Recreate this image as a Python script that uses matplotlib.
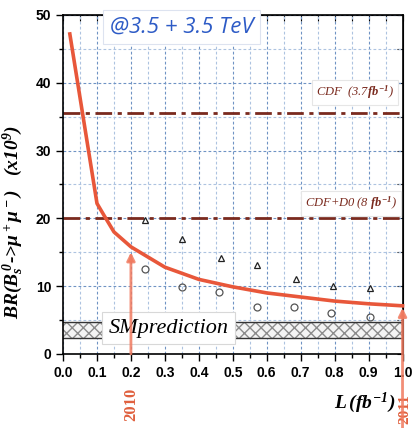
import numpy as np
import matplotlib
matplotlib.use("Agg")
import matplotlib.pyplot as plt
from matplotlib.ticker import MultipleLocator

# expected limit curve
curve_L = [0.02, 0.1, 0.12, 0.15, 0.2, 0.3, 0.4, 0.5, 0.6, 0.7, 0.8, 0.9, 1.0]
curve_br = [47.2, 22.2, 20.5, 18.0, 15.8, 12.8, 11.0, 9.9, 9.0, 8.4, 7.8, 7.4, 7.1]

# triangles and circles
tri_L = [0.24, 0.35, 0.465, 0.57, 0.685, 0.795, 0.905]
tri_br = [19.7, 17.0, 14.1, 13.1, 11.0, 10.0, 9.7]
circ_L = [0.24, 0.35, 0.46, 0.57, 0.68, 0.79, 0.905]
circ_br = [12.5, 9.85, 9.1, 6.9, 6.9, 6.0, 5.4]

# reference limits and SM band
cdf_limit = 35.6
cdf_d0_limit = 20.0
sm_low, sm_high = 2.3, 4.7
year_L = [0.2, 1.0]
year_labels = ['2010', '2011']
year_tip = [15.0, 6.8]
year_start = [0, -11]

xticks = np.arange(0, 1.01, 0.1)
xticklabels = ['%.1f' % v for v in xticks]
yticks = [0, 10, 20, 30, 40, 50]

plt.rcParams['mathtext.fontset'] = 'custom'
plt.rcParams['mathtext.rm'] = 'Liberation Serif:bold:italic'
plt.rcParams['mathtext.it'] = 'Liberation Serif:bold:italic'
plt.rcParams['mathtext.bf'] = 'Liberation Serif:bold:italic'

fig = plt.figure(figsize=(4.12, 4.28), dpi=100, facecolor='w')
ax = fig.add_axes([0.153, 0.173, 0.824, 0.792])
ax.set_xlim(0, 1.0)
ax.set_ylim(0, 50)

# grid
ax.xaxis.set_minor_locator(MultipleLocator(0.05))
ax.yaxis.set_minor_locator(MultipleLocator(5))
ax.grid(which='major', color='#6f93c4', lw=0.8, ls=(0, (2.5, 2)))
ax.grid(which='minor', color='#adc3e0', lw=0.8, ls=(0, (2.5, 2)))
ax.set_axisbelow(True)

# SM band
ax.axhspan(sm_low, sm_high, facecolor='#f4f4f4', edgecolor='#8c8c8c',
           hatch='xxx', lw=0, zorder=1)
ax.axhline(sm_low, color='#333333', lw=1, zorder=2)
ax.axhline(sm_high, color='#333333', lw=1, zorder=2)
ax.text(0.31, 3.8, 'SMprediction', fontsize=16, family='Liberation Serif',
        style='italic', ha='center', va='center', zorder=3,
        bbox=dict(boxstyle='square,pad=0.3', fc='white', ec='#d8d8d8', lw=0.8))

# CDF limits
dd = (0, (6, 2, 1.5, 2))
ax.axhline(cdf_limit, color='#7a2a1e', lw=2, ls=dd, zorder=2)
ax.axhline(cdf_d0_limit, color='#7a2a1e', lw=2, ls=dd, zorder=2)
ax.text(0.975, 38.6, r'CDF  (3.7$fb^{-1}$)', fontsize=9, family='Liberation Serif',
        style='italic', color='#7a2a1e', ha='right', va='center', zorder=3,
        bbox=dict(boxstyle='square,pad=0.3', fc='white', ec='#e6e6e6', lw=0.8))
ax.text(0.985, 22.2, r'CDF+D0 (8 $fb^{-1}$)', fontsize=9, family='Liberation Serif',
        style='italic', color='#7a2a1e', ha='right', va='center', zorder=3,
        bbox=dict(boxstyle='square,pad=0.3', fc='white', ec='#e6e6e6', lw=0.8))

# curve and markers
ax.plot(curve_L, curve_br, color='#e8573a', lw=2.6, zorder=4, clip_on=False)
ax.plot(tri_L, tri_br, ls='none', marker='^', ms=5, mfc='none', mec='#222222',
        mew=0.9, zorder=5)
ax.plot(circ_L, circ_br, ls='none', marker='o', ms=5, mfc='none', mec='#555555',
        mew=0.9, zorder=5)

# year arrows
for xl, lab, tip, y0 in zip(year_L, year_labels, year_tip, year_start):
    ax.annotate('', xy=(xl, tip), xytext=(xl, y0),
                arrowprops=dict(arrowstyle='-|>', color='#f07a5f', lw=2,
                                mutation_scale=12, alpha=0.85, shrinkA=0, shrinkB=0),
                annotation_clip=False, zorder=6)
ax.text(0.2, -7.4, year_labels[0], rotation=90, fontsize=12, family='Liberation Serif',
        weight='bold', color='#e0603e', ha='center', va='center', clip_on=False)
ax.text(1.008, -8.2, year_labels[1], rotation=90, fontsize=11, family='Liberation Serif',
        weight='bold', color='#e0603e', ha='center', va='center', clip_on=False)

# top title box
ax.text(0.35, 48.2, '@3.5 + 3.5 TeV', fontsize=16, family='Open Sans',
        style='italic', color='#2d5bc6', ha='center', va='center', zorder=7,
        clip_on=False,
        bbox=dict(boxstyle='square,pad=0.3', fc='white', ec='#dde3f0', lw=0.8))

# ticks
ax.set_xticks(xticks)
ax.set_xticklabels(xticklabels)
ax.set_yticks(yticks)
for lab in ax.get_xticklabels() + ax.get_yticklabels():
    lab.set_fontweight('bold')
    lab.set_family('Liberation Sans')
    lab.set_fontsize(10)
ax.tick_params(which='both', direction='out', length=5, width=1, color='black')
ax.tick_params(which='minor', length=3)

top = ax.secondary_xaxis('top')
top.xaxis.set_major_locator(MultipleLocator(0.05))
top.tick_params(direction='in', length=4, labeltop=False)
right = ax.secondary_yaxis('right')
right.yaxis.set_major_locator(MultipleLocator(5))
right.tick_params(direction='in', length=4, labelright=False)
for sp in ax.spines.values():
    sp.set_linewidth(1.2)

ax.set_ylabel(r'$BR(B_s^{\,0}$->$\mu^+\mu^-)$   (x10$^9$)', fontsize=14,
              family='Liberation Serif', weight='bold', style='italic')
ax.yaxis.set_label_coords(-0.108, 0.39)
ax.text(0.89, -7.2, r'$L\,(fb^{-1})$', fontsize=14, ha='center', va='center',
        clip_on=False)

fig.savefig('out.png', dpi=100)
